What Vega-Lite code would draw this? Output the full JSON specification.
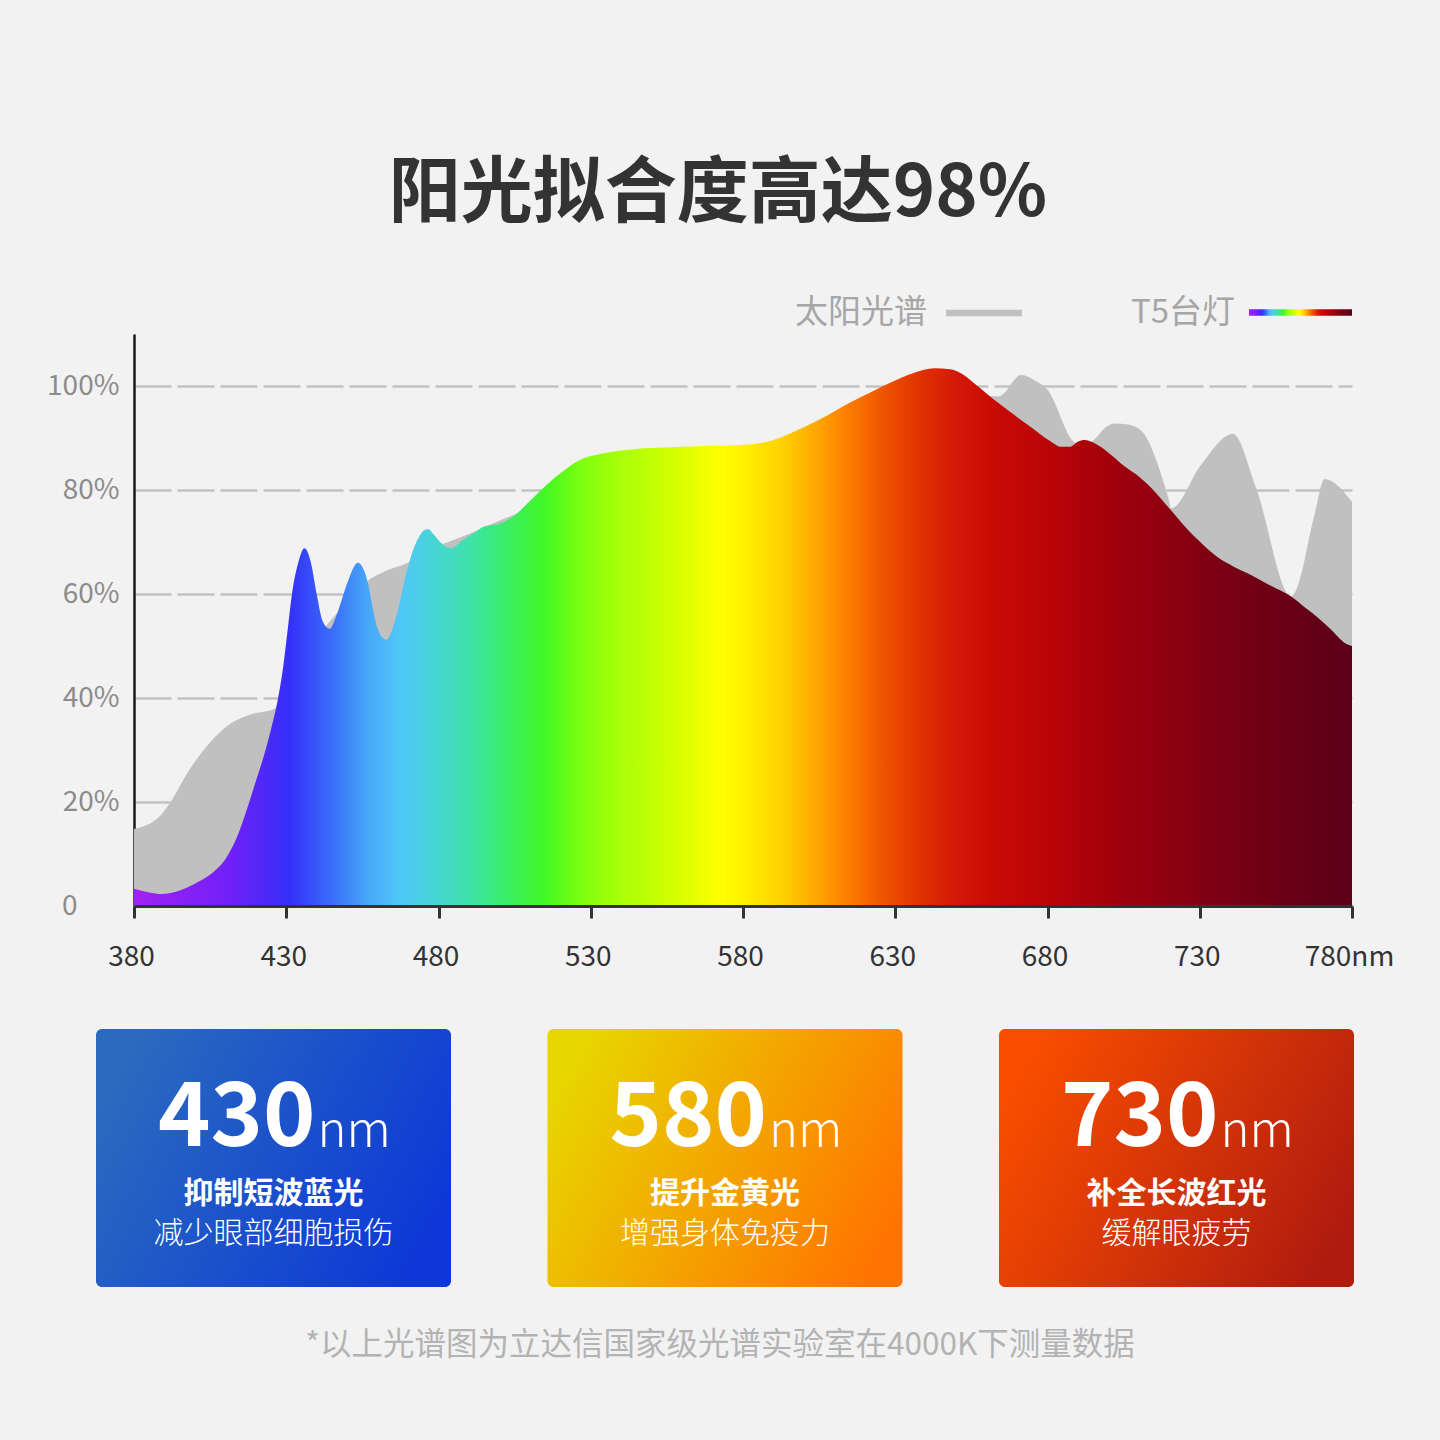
{
  "$schema": "https://vega.github.io/schema/vega-lite/v6.json",
  "background": "#f2f2f2",
  "padding": {"left": 46, "top": 158, "right": 50, "bottom": 95},
  "config": {
    "font": "Noto Sans CJK SC",
    "view": {"stroke": null}
  },
  "spacing": 58,
  "datasets": {
    "sun": [
      {"nm": 380, "v": 14.8}, {"nm": 388, "v": 17}, {"nm": 392, "v": 20}, {"nm": 398, "v": 26},
      {"nm": 405, "v": 31.5}, {"nm": 412, "v": 35.2}, {"nm": 418, "v": 36.8}, {"nm": 426, "v": 37.9},
      {"nm": 432, "v": 43}, {"nm": 438, "v": 50}, {"nm": 444, "v": 54.5}, {"nm": 450, "v": 58.5},
      {"nm": 456, "v": 62.2}, {"nm": 463, "v": 64.5}, {"nm": 470, "v": 66}, {"nm": 477, "v": 68.5},
      {"nm": 484, "v": 70.2}, {"nm": 491, "v": 71.8}, {"nm": 498, "v": 73.6}, {"nm": 505, "v": 75.3},
      {"nm": 520, "v": 79}, {"nm": 540, "v": 84}, {"nm": 560, "v": 86}, {"nm": 580, "v": 87},
      {"nm": 600, "v": 89}, {"nm": 620, "v": 93}, {"nm": 640, "v": 97}, {"nm": 650, "v": 99},
      {"nm": 664, "v": 98}, {"nm": 671.4, "v": 102.1}, {"nm": 676, "v": 101}, {"nm": 680, "v": 99.3},
      {"nm": 688.4, "v": 89.4}, {"nm": 691, "v": 88.5}, {"nm": 695.4, "v": 89.7}, {"nm": 699, "v": 92},
      {"nm": 702, "v": 92.8}, {"nm": 706.4, "v": 92.6}, {"nm": 710.8, "v": 91.4}, {"nm": 719.6, "v": 78.7},
      {"nm": 720.7, "v": 76.5}, {"nm": 730.5, "v": 84.9}, {"nm": 740.9, "v": 90.8}, {"nm": 748.5, "v": 80.4},
      {"nm": 760, "v": 59.5}, {"nm": 761.7, "v": 60.8}, {"nm": 767.7, "v": 75.3}, {"nm": 771, "v": 82.1},
      {"nm": 780, "v": 77.7}
    ],
    "lamp": [
      {"nm": 380, "v": 3.3}, {"nm": 385, "v": 2.6}, {"nm": 389, "v": 2.3}, {"nm": 395, "v": 3.0},
      {"nm": 401, "v": 4.6}, {"nm": 406, "v": 6.5}, {"nm": 410, "v": 9}, {"nm": 414, "v": 13.5},
      {"nm": 417.3, "v": 19}, {"nm": 420, "v": 24}, {"nm": 422.8, "v": 29.2}, {"nm": 425, "v": 34},
      {"nm": 427.2, "v": 39.6}, {"nm": 429, "v": 46}, {"nm": 430.5, "v": 53.3}, {"nm": 432, "v": 60.5},
      {"nm": 433.8, "v": 65.7}, {"nm": 436, "v": 68.8}, {"nm": 438, "v": 66.3}, {"nm": 440, "v": 60},
      {"nm": 442, "v": 54.7}, {"nm": 444.2, "v": 53.3}, {"nm": 447, "v": 56.7}, {"nm": 450, "v": 62},
      {"nm": 453.5, "v": 66}, {"nm": 456.8, "v": 62.2}, {"nm": 458.5, "v": 57}, {"nm": 460, "v": 53.3},
      {"nm": 462.8, "v": 51.2}, {"nm": 466.6, "v": 56.7}, {"nm": 469, "v": 63}, {"nm": 472, "v": 69},
      {"nm": 474.5, "v": 71.8}, {"nm": 476.5, "v": 72.5}, {"nm": 478.5, "v": 71.4}, {"nm": 480.9, "v": 69.8},
      {"nm": 484, "v": 68.8}, {"nm": 488, "v": 70.4}, {"nm": 491.8, "v": 71.8}, {"nm": 495, "v": 73},
      {"nm": 498.4, "v": 73.3}, {"nm": 502, "v": 74}, {"nm": 505, "v": 75.1}, {"nm": 509, "v": 77.3},
      {"nm": 513.7, "v": 80}, {"nm": 520, "v": 83.2}, {"nm": 525.8, "v": 85.6}, {"nm": 533, "v": 86.9},
      {"nm": 543.3, "v": 87.8}, {"nm": 560, "v": 88.3}, {"nm": 580, "v": 88.7}, {"nm": 590, "v": 89.6},
      {"nm": 596, "v": 91}, {"nm": 605, "v": 93.5}, {"nm": 615.5, "v": 96.9}, {"nm": 622, "v": 98.8},
      {"nm": 628.7, "v": 100.7}, {"nm": 636, "v": 102.5}, {"nm": 642.9, "v": 103.4}, {"nm": 648, "v": 103.2},
      {"nm": 651.7, "v": 102.4}, {"nm": 656, "v": 100.5}, {"nm": 662.6, "v": 97.3}, {"nm": 668, "v": 94.9},
      {"nm": 673.6, "v": 92.5}, {"nm": 681.2, "v": 89.3}, {"nm": 684.5, "v": 88.3}, {"nm": 687.3, "v": 88.3},
      {"nm": 690, "v": 89.3}, {"nm": 692.2, "v": 89.6}, {"nm": 696.6, "v": 88.6}, {"nm": 701, "v": 86.7},
      {"nm": 705.4, "v": 84.5}, {"nm": 710, "v": 82.6}, {"nm": 714.1, "v": 80.4}, {"nm": 720.7, "v": 76},
      {"nm": 726, "v": 72.4}, {"nm": 730.5, "v": 69.8}, {"nm": 736, "v": 67}, {"nm": 741, "v": 65.3},
      {"nm": 747, "v": 63.6}, {"nm": 753, "v": 61.7}, {"nm": 760, "v": 59.5}, {"nm": 765, "v": 57.2},
      {"nm": 768.9, "v": 55.4}, {"nm": 773, "v": 53.2}, {"nm": 777.6, "v": 50.6}, {"nm": 780, "v": 50}
    ],
    "cards": [
      {"nm": "430", "head": "抑制短波蓝光", "desc": "减少眼部细胞损伤"},
      {"nm": "580", "head": "提升金黄光", "desc": "增强身体免疫力"},
      {"nm": "730", "head": "补全长波红光", "desc": "缓解眼疲劳"}
    ]
  },
  "vconcat": [
    {
      "width": 1218,
      "height": 572,
      "title": {
        "text": "阳光拟合度高达98%",
        "fontSize": 72,
        "fontWeight": "bold",
        "color": "#333333",
        "anchor": "middle",
        "frame": "group",
        "dx": -25,
        "offset": 30
      },
      "resolve": {"scale": {"opacity": "independent"}, "legend": {"opacity": "independent"}},
      "encoding": {
        "x": {
          "field": "nm",
          "type": "quantitative",
          "scale": {"domain": [380, 780], "nice": false, "zero": false},
          "axis": {
            "title": null,
            "values": [380, 430, 480, 530, 580, 630, 680, 730, 780],
            "labelExpr": "datum.value == 780 ? '780nm' : datum.label",
            "grid": false,
            "zindex": 1,
            "domainColor": "#333333",
            "domainWidth": 3,
            "tickColor": "#333333",
            "tickWidth": 3,
            "tickSize": 12,
            "labelFontSize": 28,
            "labelColor": "#333333",
            "labelPadding": 25,
            "labelOffset": -3,
            "labelFlush": false,
            "labelOverlap": false
          }
        },
        "y": {
          "field": "v",
          "type": "quantitative",
          "scale": {"domain": [0, 110], "nice": false},
          "axis": {
            "title": null,
            "values": [0, 20, 40, 60, 80, 100],
            "labelExpr": "datum.value == 0 ? '0' : datum.value + '%'",
            "ticks": false,
            "domainColor": "#1a1a1a",
            "domainWidth": 2.5,
            "labelFontSize": 28,
            "labelColor": "#8c8c8c",
            "labelPadding": {"condition": {"test": "datum.value == 0", "value": 57}, "value": 15},
            "grid": true,
            "gridColor": "#c2c2c2",
            "gridWidth": 2.5,
            "gridDash": [37, 6]
          }
        }
      },
      "layer": [
        {
          "data": {"name": "sun"},
          "mark": {"type": "area", "interpolate": "monotone", "fill": "#c0c0c0"},
          "encoding": {
            "opacity": {
              "datum": "太阳光谱",
              "type": "ordinal",
              "scale": {"range": [1, 1]},
              "legend": {
                "title": null,
                "orient": "none",
                "legendX": 812,
                "legendY": -59,
                "symbolType": "M-1,-0.085H1V0.085H-1Z",
                "symbolSize": 5776,
                "symbolStrokeWidth": 0,
                "labelFontSize": 33,
                "labelColor": "#a6a6a6",
                "labelAlign": "right",
                "labelOffset": -95
              }
            }
          }
        },
        {
          "data": {"name": "lamp"},
          "mark": {
            "type": "area",
            "interpolate": "monotone",
            "fill": {
              "gradient": "linear",
              "x1": 0, "y1": 0, "x2": 1, "y2": 0,
              "stops": [
                {"offset": 0, "color": "#a322f2"},
                {"offset": 0.08, "color": "#7020f8"},
                {"offset": 0.1275, "color": "#3430f8"},
                {"offset": 0.165, "color": "#3a72f8"},
                {"offset": 0.1925, "color": "#48a8f8"},
                {"offset": 0.2175, "color": "#50c6f8"},
                {"offset": 0.2425, "color": "#48d3dc"},
                {"offset": 0.28, "color": "#3ee4a2"},
                {"offset": 0.3075, "color": "#3bee62"},
                {"offset": 0.3375, "color": "#42f824"},
                {"offset": 0.3675, "color": "#7eff10"},
                {"offset": 0.4, "color": "#aaff08"},
                {"offset": 0.4475, "color": "#d8ff00"},
                {"offset": 0.48, "color": "#ffff00"},
                {"offset": 0.5, "color": "#fff200"},
                {"offset": 0.5325, "color": "#fdd000"},
                {"offset": 0.565, "color": "#ffa000"},
                {"offset": 0.5825, "color": "#ff8200"},
                {"offset": 0.6125, "color": "#f05800"},
                {"offset": 0.645, "color": "#e03200"},
                {"offset": 0.675, "color": "#d41808"},
                {"offset": 0.7075, "color": "#c80a04"},
                {"offset": 0.7575, "color": "#b80408"},
                {"offset": 0.805, "color": "#a0000c"},
                {"offset": 0.8525, "color": "#8c0010"},
                {"offset": 0.9, "color": "#780014"},
                {"offset": 0.95, "color": "#680016"},
                {"offset": 1, "color": "#5c0018"}
              ]
            }
          },
          "encoding": {
            "opacity": {
              "datum": "T5台灯",
              "type": "ordinal",
              "scale": {"range": [1, 1]},
              "legend": {
                "title": null,
                "orient": "none",
                "legendX": 1115,
                "legendY": -73,
                "symbolType": "M-1,-0.065H1V0.065H-1Z",
                "symbolSize": 10609,
                "symbolStrokeWidth": 0,
                "labelFontSize": 33,
                "labelColor": "#a6a6a6",
                "labelAlign": "right",
                "labelOffset": -117,
                "encode": {
                  "symbols": {
                    "fill": {
                      "value": {
                        "gradient": "linear",
                        "x1": 0, "y1": 0, "x2": 1, "y2": 0,
                        "stops": [
                          {"offset": 0, "color": "#0818d8"},
                          {"offset": 0.15, "color": "#1060f0"},
                          {"offset": 0.26, "color": "#30c0a0"},
                          {"offset": 0.41, "color": "#80f020"},
                          {"offset": 0.49, "color": "#f0f000"},
                          {"offset": 0.56, "color": "#ff8000"},
                          {"offset": 0.67, "color": "#e03000"},
                          {"offset": 0.82, "color": "#a01818"},
                          {"offset": 1, "color": "#701818"}
                        ]
                      }
                    }
                  }
                }
              }
            }
          }
        }
      ]
    },
    {
      "width": 1218,
      "height": 258,
      "data": {"name": "cards"},
      "title": {
        "text": "*以上光谱图为立达信国家级光谱实验室在4000K下测量数据",
        "orient": "bottom",
        "anchor": "middle",
        "frame": "group",
        "dx": -23,
        "fontSize": 31.5,
        "fontWeight": "normal",
        "color": "#b3b3b3",
        "offset": 43
      },
      "encoding": {
        "x": {
          "field": "nm",
          "type": "nominal",
          "sort": null,
          "axis": null,
          "scale": {"range": [-38, 1220], "paddingInner": 0.2137, "paddingOuter": 0}
        }
      },
      "layer": [
        {
          "transform": [{"filter": "datum.nm == '430'"}],
          "mark": {
            "type": "rect",
            "cornerRadius": 6,
            "fill": {
              "gradient": "linear", "x1": 0, "y1": 0.3, "x2": 1, "y2": 0.7,
              "stops": [{"offset": 0, "color": "#2a6bbe"}, {"offset": 1, "color": "#0d37d7"}]
            }
          }
        },
        {
          "transform": [{"filter": "datum.nm == '580'"}],
          "mark": {
            "type": "rect",
            "cornerRadius": 6,
            "fill": {
              "gradient": "linear", "x1": 0, "y1": 0.3, "x2": 1, "y2": 0.7,
              "stops": [{"offset": 0, "color": "#e7d600"}, {"offset": 1, "color": "#ff7400"}]
            }
          }
        },
        {
          "transform": [{"filter": "datum.nm == '730'"}],
          "mark": {
            "type": "rect",
            "cornerRadius": 6,
            "fill": {
              "gradient": "linear", "x1": 0, "y1": 0.3, "x2": 1, "y2": 0.7,
              "stops": [{"offset": 0, "color": "#f94e00"}, {"offset": 1, "color": "#b01b0f"}]
            }
          }
        },
        {
          "mark": {"type": "text", "align": "right", "baseline": "alphabetic", "dx": 42, "dy": -12, "fontSize": 89, "fontWeight": "bold", "fill": "#ffffff"},
          "encoding": {"text": {"field": "nm"}}
        },
        {
          "mark": {"type": "text", "align": "left", "baseline": "alphabetic", "dx": 44, "dy": -11, "fontSize": 49, "fontWeight": 300, "fill": "#ffffff"},
          "encoding": {"text": {"value": "nm"}}
        },
        {
          "mark": {"type": "text", "align": "center", "baseline": "alphabetic", "dy": 45, "fontSize": 30, "fontWeight": "bold", "fill": "#ffffff"},
          "encoding": {"text": {"field": "head"}}
        },
        {
          "mark": {"type": "text", "align": "center", "baseline": "alphabetic", "dy": 85, "fontSize": 30, "fontWeight": 300, "fill": "#ffffff"},
          "encoding": {"text": {"field": "desc"}}
        }
      ]
    }
  ]
}
